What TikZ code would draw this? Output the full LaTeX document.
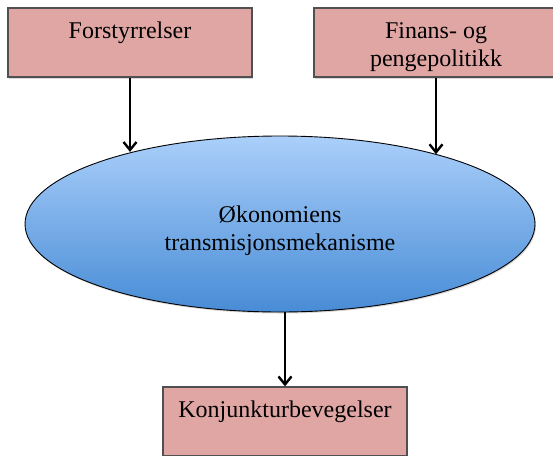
\documentclass[tikz,border=0pt]{standalone}
\usepackage{fontspec}
\setmainfont{Liberation Serif}
\usetikzlibrary{arrows.meta,shapes.geometric,shadows}
\definecolor{boxfill}{RGB}{224,166,164}
\definecolor{boxline}{RGB}{80,80,80}
\definecolor{elltop}{RGB}{170,207,250}
\definecolor{ellbot}{RGB}{72,140,214}
\tikzset{
  pinkbox/.style={draw=boxline, line width=1.3pt, fill=boxfill, rectangle,
    minimum width=244pt, minimum height=69pt, inner sep=0pt,
    align=center, text height=17pt, text depth=26pt,
    font=\fontsize{24}{28}\selectfont,
    drop shadow={shadow xshift=1pt, shadow yshift=-1.5pt, opacity=0.3}},
  twoline/.style={text height=50pt, text depth=3pt},
  blueell/.style={draw=black, line width=0.9pt, ellipse, top color=elltop, bottom color=ellbot,
    minimum width=510pt, minimum height=176pt, inner sep=0pt,
    align=center, text height=55pt, text depth=3pt,
    font=\fontsize{24}{28}\selectfont,
    drop shadow={shadow xshift=1pt, shadow yshift=-1.5pt, opacity=0.3}},
  arr/.style={draw=black, line width=2.4pt, -{Straight Barb[length=8pt,width=13pt]}}
}
\begin{document}
\begin{tikzpicture}[x=1pt,y=-1pt]
\useasboundingbox (0,0) rectangle (553,455);
\clip (0,0) rectangle (553,455);
\node[pinkbox] (f) at (130,42.5) {Forstyrrelser};
\node[pinkbox, twoline] (g) at (436,42.5) {Finans- og\\pengepolitikk};
\node[blueell] (e) at (280,224) {Økonomiens\\transmisjonsmekanisme};
\node[pinkbox] (k) at (285,421.5) {Konjunkturbevegelser};
\draw[arr] (f.south) -- (f.south |- e.154.6);
\draw[arr] (g.south) -- (g.south |- e.24);
\draw[arr] (k.north |- e.south) -- (k.north);
\end{tikzpicture}
\end{document}
